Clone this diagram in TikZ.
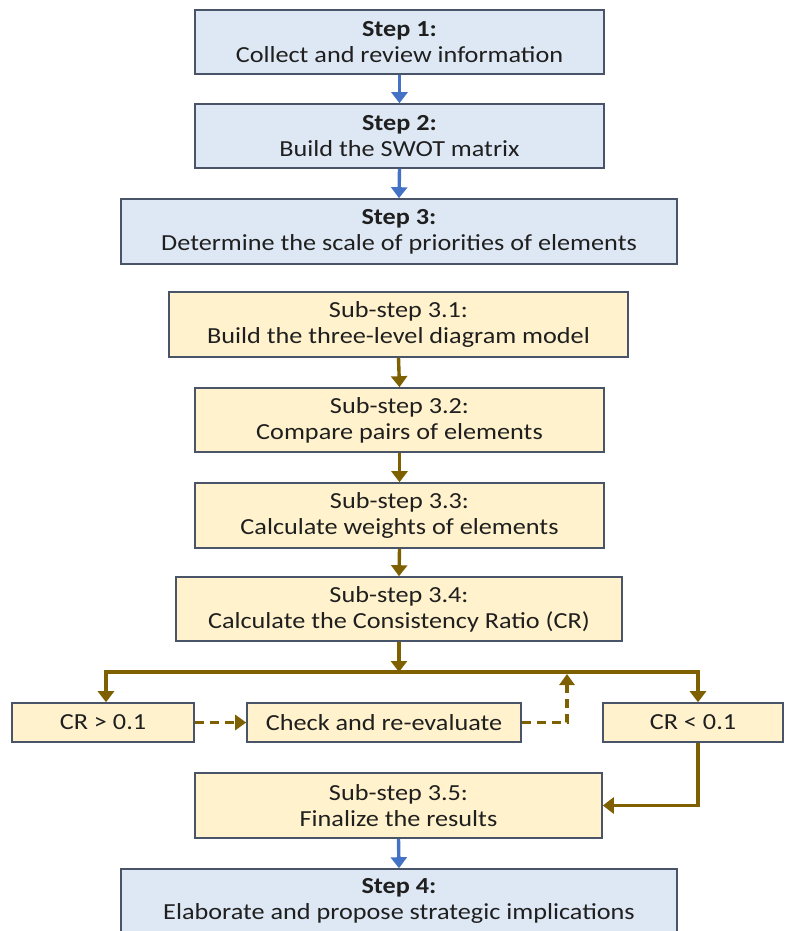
\documentclass[tikz,border=0pt]{standalone}
\usepackage{fontspec}
\setmainfont[FakeStretch=1.14]{Carlito}
\usetikzlibrary{arrows.meta,calc}
\definecolor{bluefill}{HTML}{DEE8F4}
\definecolor{yellowfill}{HTML}{FFF2CC}
\definecolor{boxborder}{HTML}{4A5468}
\definecolor{brownline}{HTML}{7F6000}
\definecolor{bluearrow}{HTML}{4472C4}
\definecolor{txt}{HTML}{1F1F1F}
\tikzset{
  basebox/.style={draw=boxborder, line width=1.6pt, align=center, text=txt,
    font=\fontsize{23}{26}\selectfont, inner sep=0pt},
  bluebox/.style={basebox, fill=bluefill},
  yelbox/.style={basebox, fill=yellowfill},
  bluearr/.style={draw=bluearrow, line width=3.4pt, -{Triangle[width=16pt,length=11pt]}},
  brownarr/.style={draw=brownline, line width=3.4pt, -{Triangle[width=16pt,length=11pt]}},
  brownln/.style={draw=brownline, line width=3.4pt},
  dasharr/.style={draw=brownline, line width=3.2pt, dash pattern=on 9pt off 6pt, -{Triangle[width=15pt,length=11pt]}}
}
\begin{document}
\begin{tikzpicture}[x=1pt,y=-1pt]
\useasboundingbox (0,0) rectangle (784,931);
\fill[white] (0,0) rectangle (784,931);
\node[bluebox, minimum width=409pt, minimum height=64pt] (s1) at (399.5,42) {\textbf{Step 1:}\\Collect and review information};
\node[bluebox, minimum width=409pt, minimum height=64pt] (s2) at (399.5,136) {\textbf{Step 2:}\\Build the SWOT matrix};
\node[bluebox, minimum width=556pt, minimum height=65pt] (s3) at (399,231.5) {\textbf{Step 3:}\\Determine the scale of priorities of elements};
\node[yelbox, minimum width=459pt, minimum height=65pt] (s31) at (398.5,324.5) {Sub-step 3.1:\\Build the three-level diagram model};
\node[yelbox, minimum width=409pt, minimum height=64pt] (s32) at (399.5,420) {Sub-step 3.2:\\Compare pairs of elements};
\node[yelbox, minimum width=409pt, minimum height=65pt] (s33) at (399.5,515.5) {Sub-step 3.3:\\Calculate weights of elements};
\node[yelbox, minimum width=446pt, minimum height=64pt] (s34) at (399,609) {Sub-step 3.4:\\Calculate the Consistency Ratio (CR)};
\node[yelbox, minimum width=182pt, minimum height=39pt] (crg) at (103,722.5) {CR > 0.1};
\node[yelbox, minimum width=274pt, minimum height=39pt] (chk) at (384,722.5) {Check and re-evaluate};
\node[yelbox, minimum width=180pt, minimum height=39pt] (crl) at (693,722.5) {CR < 0.1};
\node[yelbox, minimum width=407pt, minimum height=65pt] (s35) at (398.5,805.5) {Sub-step 3.5:\\Finalize the results};
\node[bluebox, minimum width=556pt, minimum height=64pt] (s4) at (399,901) {\textbf{Step 4:}\\Elaborate and propose strategic implications};
\coordinate (fork) at (399,672);
\coordinate (forkL) at (106,672);
\coordinate (forkR) at (698,672);
\coordinate (ret) at (567,674);
\draw[bluearr] (s1.south) -- (s2.north);
\draw[bluearr] (s2.south) -- (s3.north);
\draw[brownarr] (s31.south) -- (s32.north);
\draw[brownarr] (s32.south) -- (s33.north);
\draw[brownarr] (s33.south) -- (s34.north);
\draw[brownarr] (s34.south) -- (fork);
\draw[brownln] ([xshift=-1.7pt]forkL) -- ([xshift=1.7pt]forkR);
\draw[brownarr] (forkL) -- (forkL |- crg.north);
\draw[brownarr] (forkR) -- (forkR |- crl.north);
\draw[dasharr] (crg.east) -- (chk.west);
\draw[dasharr] (chk.east) -| (ret);
\draw[brownarr] (crl.south -| forkR) |- (s35.east);
\draw[bluearr] (s35.south) -- (s4.north);
\end{tikzpicture}
\end{document}
